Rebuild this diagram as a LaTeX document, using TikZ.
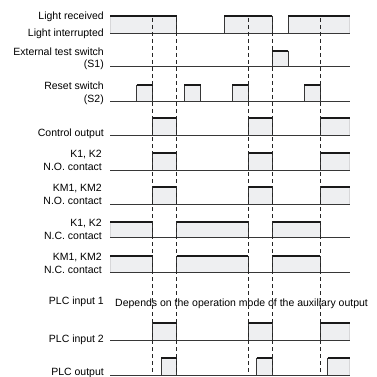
\documentclass[tikz,border=0pt]{standalone}
\usepackage{fontspec}
\setmainfont{Liberation Sans}
\usepackage{xcolor}
\definecolor{pulsebg}{RGB}{238, 239, 241}
\definecolor{linegray}{RGB}{55, 55, 55}
\usepackage{tikz}
\usetikzlibrary{positioning}

% one signal row: low level, high level, list of pulses start/end
\newcommand{\sigrow}[3]{%
  \foreach \a/\b in {#3} {
    \fill[pulsebg] (\a,#1) rectangle (\b,#2);
    \begin{scope}
      \clip (110.8,0) rectangle (349,400);
      \draw[edge] (\a,#1) -- (\a,#2) (\b,#2) -- (\b,#1);
    \end{scope}
    \draw[level] (\a,#2) -- (\b,#2);
  }
  \draw[base] (110,#1) -- (349.5,#1);
}

\begin{document}
\begin{tikzpicture}[
  x=1pt, y=-1pt,
  lbl/.style={anchor=base east, align=right, inner sep=0pt, font=\fontsize{10.5}{12.6}\selectfont},
  base/.style={line width=0.9pt, color=linegray},
  edge/.style={line width=0.8pt, color=linegray},
  level/.style={line width=2.2pt, color=black!90},
  guide/.style={dash pattern=on 4pt off 3pt, line width=0.7pt, color=black!85}
]
\useasboundingbox (0,0) rectangle (377,377);

\node[lbl] (lightrec) at (104,19.5) {Light received};
\node[lbl] (lightint) at (104,37) {Light interrupted};
\node[lbl] (testsw) at (104,68) {External test switch\\(S1)};
\node[lbl] (resetsw) at (104,102.5) {Reset switch\\(S2)};
\node[lbl] (ctrlout) at (104,136.5) {Control output};
\node[lbl] (knoc) at (102,170) {K1, K2\\N.O. contact};
\node[lbl] (kmnoc) at (102,204.5) {KM1, KM2\\N.O. contact};
\node[lbl] (kncc) at (102,239) {K1, K2\\N.C. contact};
\node[lbl] (kmncc) at (102,273.5) {KM1, KM2\\N.C. contact};
\node[lbl] (plcinA) at (104,304) {PLC input 1};
\node[lbl, anchor=base west, right=11pt of plcinA.base east] (plcnote) {Depends on the operation mode of the auxiliary output};
\node[lbl] (plcinB) at (104,342) {PLC input 2};
\node[lbl] (plcout) at (104,375) {PLC output};

\sigrow{33}{15.7}{110/176.7, 224.3/272.3, 288.3/349.5}
\sigrow{66.7}{50.7}{272.3/288.3}
\sigrow{101}{85}{136.7/152.7, 184.3/200.7, 232.3/248.3, 304/320}
\sigrow{135}{118.3}{152.7/176.7, 248.3/272.3, 320/349.5}
\sigrow{170}{153.3}{152.7/176.7, 248.3/272.3, 320/349.5}
\sigrow{204}{187.3}{152.7/176.7, 248.3/272.3, 320/349.5}
\sigrow{237.3}{222.3}{110/152.7, 176.7/248.3, 272.3/320}
\sigrow{272.3}{256}{110/152.7, 176.7/248.3, 272.3/320}
\sigrow{340}{323.3}{152.7/176.7, 248.3/272.3, 320/349.5}
\sigrow{375}{358.3}{161/176.7, 256.7/272.3, 327.7/349.5}

\foreach \t in {152.7, 176.7, 248.3, 272.3, 320}
  \draw[guide] (\t,18) -- (\t,375);
\end{tikzpicture}
\end{document}
